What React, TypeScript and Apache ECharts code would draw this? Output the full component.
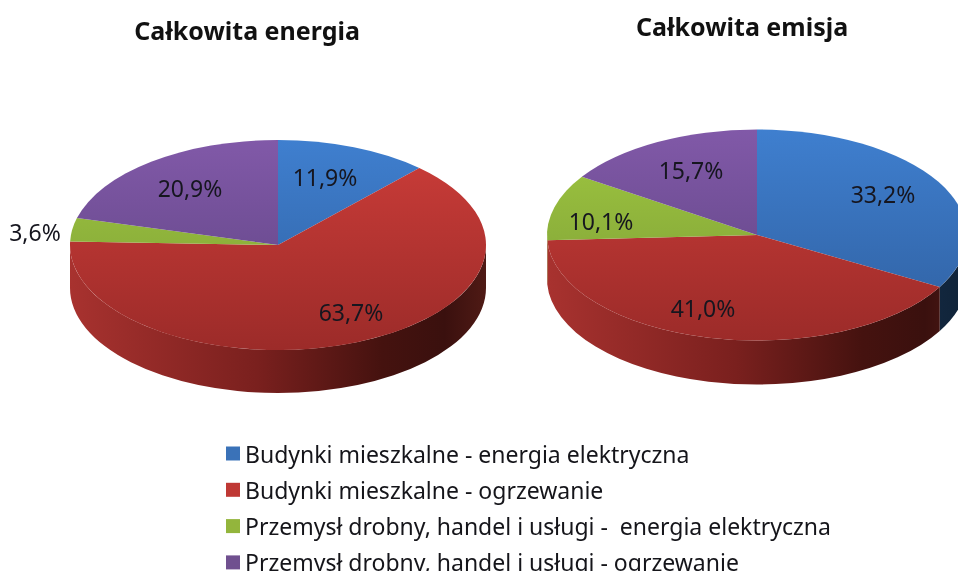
import React, { useEffect, useRef } from "react";
import * as echarts from "echarts";

const pieTitles = ["Całkowita energia", "Całkowita emisja"];
const categories = [
  "Budynki mieszkalne - energia elektryczna",
  "Budynki mieszkalne - ogrzewanie",
  "Przemysł drobny, handel i usługi -  energia elektryczna",
  "Przemysł drobny, handel i usługi - ogrzewanie",
];
const energyShares = [11.9, 63.7, 3.6, 20.9];
const emissionShares = [33.2, 41.0, 10.1, 15.7];
const pieShares = [energyShares, emissionShares];

const pieGeometry = [
  { cx: 278, cy: 245, rx: 208, ry: 105, depth: 43 },
  { cx: 757, cy: 235, rx: 210, ry: 105.5, depth: 44 },
];
const labelAnchors = [
  [[325, 177], [351, 312], [35, 232], [190, 188]],
  [[883, 194], [703, 308], [601, 221], [691, 170]],
];
const legendColors = ["#3a72b8", "#bf3834", "#93b53c", "#70508f"];
const topStops = [
  ["#3f7fcf", "#2f5f9f"],
  ["#cc3d39", "#9c2b29"],
  ["#a0c840", "#7a9a36"],
  ["#8159a8", "#5c4280"],
];
const wallStops = [
  ["#2a5488", "#102338"],
  ["#a8322f", "#3a100e"],
  ["#7b9a32", "#3d4d18"],
  ["#5c4280", "#2c1f40"],
];
const FONT = '"Noto Sans", sans-serif';

const rad = (share: number) => (share / 100) * Math.PI * 2;
const pt = (g: any, a: number, dy = 0): [number, number] => [
  g.cx + g.rx * Math.sin(a),
  g.cy - g.ry * Math.cos(a) + dy,
];

function vertical(g: any, stops: string[]) {
  return new echarts.graphic.LinearGradient(
    0, g.cy - g.ry, 0, g.cy + g.ry,
    [{ offset: 0, color: stops[0] }, { offset: 1, color: stops[1] }],
    true
  );
}

function wallFill(g: any, cat: number) {
  const s = wallStops[cat];
  if (cat === 1) {
    return new echarts.graphic.LinearGradient(
      g.cx - g.rx, 0, g.cx + g.rx, 0,
      [
        { offset: 0, color: "#a8322f" },
        { offset: 0.45, color: "#7a201e" },
        { offset: 0.75, color: "#45120f" },
        { offset: 0.9, color: "#3a100e" },
        { offset: 1, color: "#4f1a15" },
      ],
      true
    );
  }
  return new echarts.graphic.LinearGradient(
    g.cx - g.rx, 0, g.cx + g.rx, 0,
    [{ offset: 0, color: s[0] }, { offset: 1, color: s[1] }],
    true
  );
}

function renderSlice(cat: number) {
  return (_params: any, api: any) => {
    const pie = api.value(0) as number;
    const value = api.value(1) as number;
    const g = pieGeometry[pie];
    const shares = pieShares[pie];
    const total = shares.reduce((a, b) => a + b, 0);
    const before = shares.slice(0, cat).reduce((a, b) => a + b, 0);
    const a0 = rad((before / total) * 100);
    const a1 = rad(((before + value) / total) * 100);
    const [x0, y0] = pt(g, a0);
    const [x1, y1] = pt(g, a1);
    const large = a1 - a0 > Math.PI ? 1 : 0;
    const top = `M${g.cx} ${g.cy}L${x0} ${y0}A${g.rx} ${g.ry} 0 ${large} 1 ${x1} ${y1}Z`;
    const children: any[] = [];
    const w0 = Math.max(a0, Math.PI / 2);
    const w1 = Math.min(a1, (Math.PI * 3) / 2);
    if (w1 > w0) {
      const [ax, ay] = pt(g, w0);
      const [bx, by] = pt(g, w1);
      const wl = w1 - w0 > Math.PI ? 1 : 0;
      children.push({
        type: "path",
        shape: {
          pathData: `M${ax} ${ay}A${g.rx} ${g.ry} 0 ${wl} 1 ${bx} ${by}L${bx} ${by + g.depth}A${g.rx} ${g.ry} 0 ${wl} 0 ${ax} ${ay + g.depth}Z`,
        },
        style: { fill: wallFill(g, cat) },
      });
    }
    children.push({
      type: "path",
      shape: { pathData: top },
      style: { fill: vertical(g, topStops[cat]) },
    });
    const [tx, ty] = labelAnchors[pie][cat];
    children.push({
      type: "text",
      z2: 10,
      style: {
        text: value.toFixed(1).replace(".", ",") + "%",
        x: tx,
        y: ty,
        fill: "#16161f",
        font: `23px ${FONT}`,
        align: "center",
        verticalAlign: "middle",
        textAlign: "center",
        textVerticalAlign: "middle",
      },
    });
    return { type: "group", children };
  };
}

export default function App() {
  const ref = useRef<HTMLDivElement>(null);
  useEffect(() => {
    const chart = echarts.init(ref.current!, null, { renderer: "svg" });
    chart.setOption({
      animation: false,
      backgroundColor: "#ffffff",
      title: [
        {
          text: pieTitles[0],
          left: 242,
          top: 12,
          textAlign: "center",
          textStyle: { fontFamily: FONT, fontSize: 25, fontWeight: "bold", color: "#111111" },
        },
        {
          text: pieTitles[1],
          left: 737,
          top: 8,
          textAlign: "center",
          textStyle: { fontFamily: FONT, fontSize: 25, fontWeight: "bold", color: "#111111" },
        },
      ],
      legend: {
        orient: "vertical",
        left: 226,
        top: 442,
        height: 180,
        padding: 0,
        icon: "rect",
        itemWidth: 14,
        itemHeight: 14,
        itemGap: 13.3,
        selectedMode: false,
        data: categories,
        textStyle: { fontFamily: FONT, fontSize: 23, color: "#15151a" },
      },
      series: categories.map((name, cat) => ({
        type: "custom",
        name,
        coordinateSystem: "none",
        itemStyle: { color: legendColors[cat] },
        silent: true,
        renderItem: renderSlice(cat),
        data: [
          [0, energyShares[cat]],
          [1, emissionShares[cat]],
        ],
      })),
    });
    return () => chart.dispose();
  }, []);
  return (
    <div
      ref={ref}
      style={{ position: "absolute", left: 0, top: 0, width: 958, height: 571, overflow: "hidden", filter: "blur(0.5px)" }}
    />
  );
}
